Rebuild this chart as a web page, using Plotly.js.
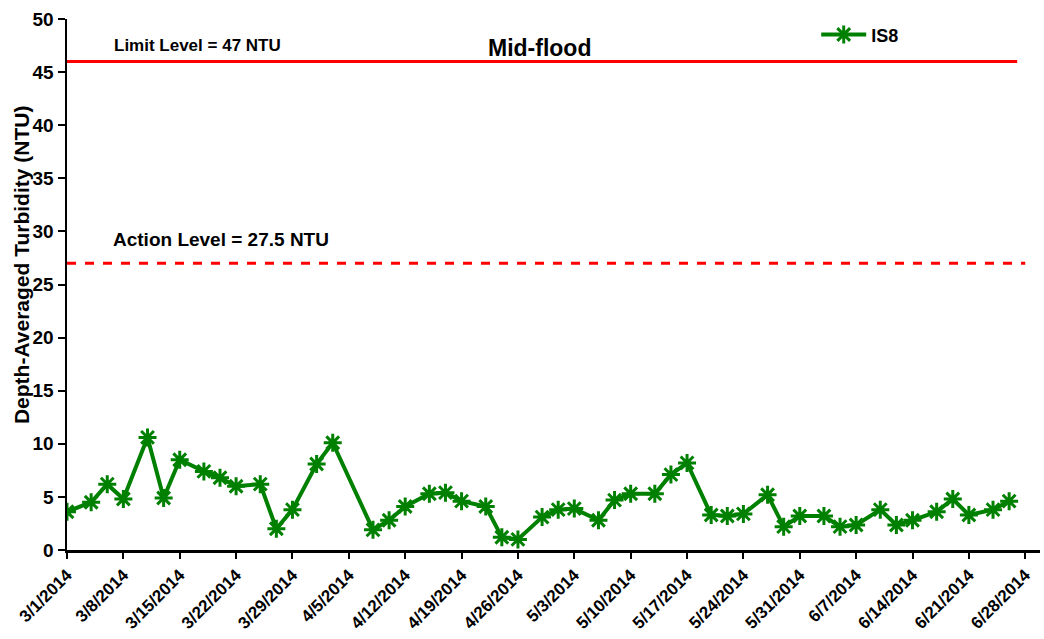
<!DOCTYPE html>
<html>
<head>
<meta charset="utf-8">
<script src="https://cdn.plot.ly/plotly-3.0.1.min.js"></script>
<style>html,body{margin:0;padding:0;background:#fff;}#chart{width:1044px;height:639px;}</style>
</head>
<body>
<div id="chart"></div>
<script>
const dates = ["2014-03-01","2014-03-04","2014-03-06","2014-03-08","2014-03-11","2014-03-13","2014-03-15","2014-03-18","2014-03-20","2014-03-22","2014-03-25","2014-03-27","2014-03-29",
"2014-04-01","2014-04-03","2014-04-08","2014-04-10","2014-04-12","2014-04-15","2014-04-17","2014-04-19","2014-04-22","2014-04-24","2014-04-26","2014-04-29",
"2014-05-01","2014-05-03","2014-05-06","2014-05-08","2014-05-10","2014-05-13","2014-05-15","2014-05-17","2014-05-20","2014-05-22","2014-05-24","2014-05-27","2014-05-29","2014-05-31",
"2014-06-03","2014-06-05","2014-06-07","2014-06-10","2014-06-12","2014-06-14","2014-06-17","2014-06-19","2014-06-21","2014-06-24","2014-06-26"];
const is8 = [3.6,4.5,6.2,4.8,10.6,4.9,8.5,7.4,6.8,6.0,6.2,2.0,3.8,
8.1,10.1,1.9,2.8,4.1,5.3,5.4,4.6,4.1,1.2,1.0,3.1,
3.8,3.9,2.8,4.7,5.3,5.3,7.1,8.2,3.3,3.2,3.4,5.2,2.2,3.2,
3.2,2.2,2.35,3.8,2.35,2.8,3.6,4.8,3.3,3.8,4.6];
const limitDates = ["2014-03-01","2014-06-27"];
const limitValues = [46,46];
const actionDates = ["2014-03-01","2014-06-28"];
const actionValues = [27,27];

const FONT = "Liberation Sans, Arial, sans-serif";

const traces = [
  {x: limitDates, y: limitValues, mode: "lines", line: {color: "#ff0000", width: 3}, showlegend: false, hoverinfo: "skip"},
  {x: actionDates, y: actionValues, mode: "lines", line: {color: "#ff0000", width: 3, dash: "dash"}, showlegend: false, hoverinfo: "skip"},
  {x: dates, y: is8, name: "IS8", mode: "lines+markers",
   line: {color: "#008000", width: 4},
   marker: {symbol: "asterisk-open", size: 15, color: "#008000", line: {color: "#008000", width: 3}}}
];

const layout = {
  width: 1044, height: 639,
  margin: {l: 67, r: 4, t: 19, b: 89},
  paper_bgcolor: "#fff", plot_bgcolor: "#fff",
  font: {family: FONT, color: "#000"},
  showlegend: true,
  legend: {x: 0.77, y: 1.005, xanchor: "left", yanchor: "top", bgcolor: "rgba(0,0,0,0)",
           itemwidth: 45,
           font: {family: FONT, size: 18, color: "#000", weight: "bold"}},
  xaxis: {
    type: "date",
    range: ["2014-03-01", "2014-06-29 20:00"],
    tick0: "2014-03-01", dtick: 7 * 86400000,
    tickformat: "%-m/%-d/%Y",
    tickangle: -45,
    ticks: "outside", ticklen: 6, tickwidth: 2, tickcolor: "#000",
    showline: true, linecolor: "#000", linewidth: 2.5,
    showgrid: false, zeroline: false,
    tickfont: {family: FONT, size: 17, color: "#000", weight: "bold"}
  },
  yaxis: {
    range: [0, 50], dtick: 5,
    ticks: "outside", ticklen: 7, tickwidth: 2, tickcolor: "#000",
    showline: true, linecolor: "#000", linewidth: 2.5,
    showgrid: false, zeroline: false,
    tickfont: {family: FONT, size: 19, color: "#000", weight: "bold"}
  },
  annotations: [
    {text: "Depth-Averaged Turbidity (NTU)", xref: "paper", yref: "paper", x: -0.046, y: 0.537,
     textangle: -90, showarrow: false, xanchor: "center", yanchor: "middle",
     font: {family: FONT, size: 21, color: "#000", weight: "bold"}},
    {text: "Mid-flood", xref: "paper", yref: "paper", x: 0.486, y: 0.945, showarrow: false,
     xanchor: "center", yanchor: "middle", font: {family: FONT, size: 23, color: "#000", weight: "bold"}},
    {text: "Limit Level = 47 NTU", xref: "paper", yref: "paper", x: 0.134, y: 0.951, showarrow: false,
     xanchor: "center", yanchor: "middle", font: {family: FONT, size: 17, color: "#000", weight: "bold"}},
    {text: "Action Level = 27.5 NTU", xref: "paper", yref: "paper", x: 0.158, y: 0.584, showarrow: false,
     xanchor: "center", yanchor: "middle", font: {family: FONT, size: 19, color: "#000", weight: "bold"}}
  ]
};

Plotly.newPlot("chart", traces, layout, {displayModeBar: false, staticPlot: true});
</script>
</body>
</html>
